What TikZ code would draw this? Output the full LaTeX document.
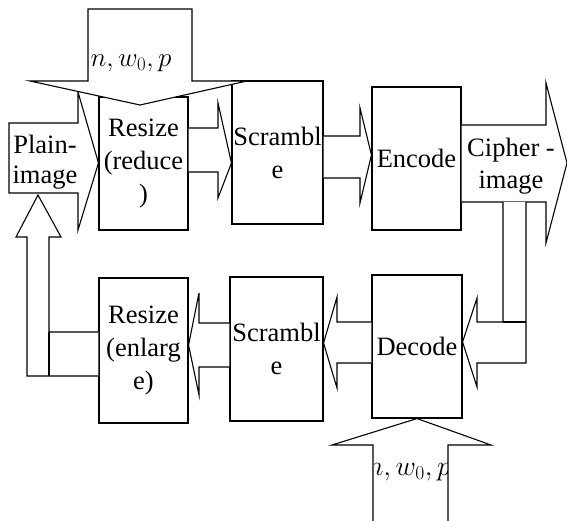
\RequirePackage{fix-cm}
\documentclass[tikz,border=0pt]{standalone}
\usepackage{fontspec}
\setmainfont{Liberation Serif}
\usepackage{amsmath}
\usetikzlibrary{calc}

\begin{document}
\begin{tikzpicture}[x=1pt,y=-1pt,
    blk/.style={draw, line width=1.1pt, fill=white, line join=miter},
    stage/.style={draw, line width=1.1pt, align=center, inner sep=0pt, font=\fontsize{26.5}{33}\selectfont}]
  \useasboundingbox (0,0) rectangle (567,521);

  % processing boxes
  \foreach \x/\y/\w/\h/\nm/\txt in {143.5/163.5/89/133/resa/Resize\\(reduce\\), 277.5/152.5/91/143/scra/Scrambl\\e, 416.5/158.5/89/143/enc/Encode,
      417/346.5/90/143/dec/Decode, 276.5/349/93/144/scrb/Scrambl\\e, 143.5/350.5/89/145/resb/Resize\\(enlarg\\e)}{
    \node[stage, minimum width=\w pt, minimum height=\h pt] (\nm) at (\x,\y) {\txt}; }

  % block arrows between the boxes
  \foreach \a/\b/\hx/\sa/\sb/\ha/\hb/\ty in {resa.east/scra.west/218/128/172/103/198/163, scra.east/enc.west/360/136/178/108/203/155,
      dec.west/scrb.east/337/322/363/297/388/343, scrb.west/resb.east/199/323/367/293/395/345}{
    \draw[blk] (\a |- 0,\sa) -- (\hx,\sa) -- (\hx,\ha) -- (\b |- 0,\ty) -- (\hx,\hb) -- (\hx,\sb) -- (\a |- 0,\sb); }

  % plain image
  \draw[blk] (9,123) -- (78,123) -- (78,92) -- (resa.west |- 0,163) -- (78,230) -- (78,193) -- (9,193) -- cycle;
  \node[font=\fontsize{26.5}{30}\selectfont, align=center] (plain) at (45,162) {Plain-\\image};

  % cipher image
  \draw[blk] (enc.east |- 0,125) -- (546,125) -- (546,83) -- (567,163) -- (546,243) -- (546,202) -- (enc.east |- 0,202);
  \node[font=\fontsize{26.5}{32}\selectfont, align=center] (cipher) at (511,166) {Cipher -\\image};

  % way back
  \draw[blk] (503,202) -- (503,322) -- (477,322) -- (477,298) -- (dec.east |- 0,342) -- (477,387) -- (477,363) -- (526,363) -- (526,202);
  \draw[line width=1.1pt] (503,322) -- (526,322);
  \draw[blk] (resb.west |- 0,332) -- (49,332) -- (49,237) -- (61,237) -- (38,195) -- (16,237) -- (27,237) -- (27,376) -- (resb.west |- 0,376);
  \draw[line width=1.1pt] (49,332) -- (49,376);

  % keys
  \draw[blk] (88,9) -- (192,9) -- (192,81) -- (247,81) -- (140,105) -- (30,81) -- (88,81) -- cycle;
  \node[font=\fontsize{27}{30}\selectfont] (keya) at (131,63) {$n, w_0, p$};
  \draw[blk] (373,525) -- (373,445) -- (332,445) -- (dec.south) -- (491,445) -- (448,445) -- (448,525);
  \begin{scope}
    \clip (374,446) rectangle (447,521);
    \node[font=\fontsize{28}{30}\selectfont] (keyb) at (409,472) {$n, w_0, p$};
  \end{scope}
\end{tikzpicture}
\end{document}
